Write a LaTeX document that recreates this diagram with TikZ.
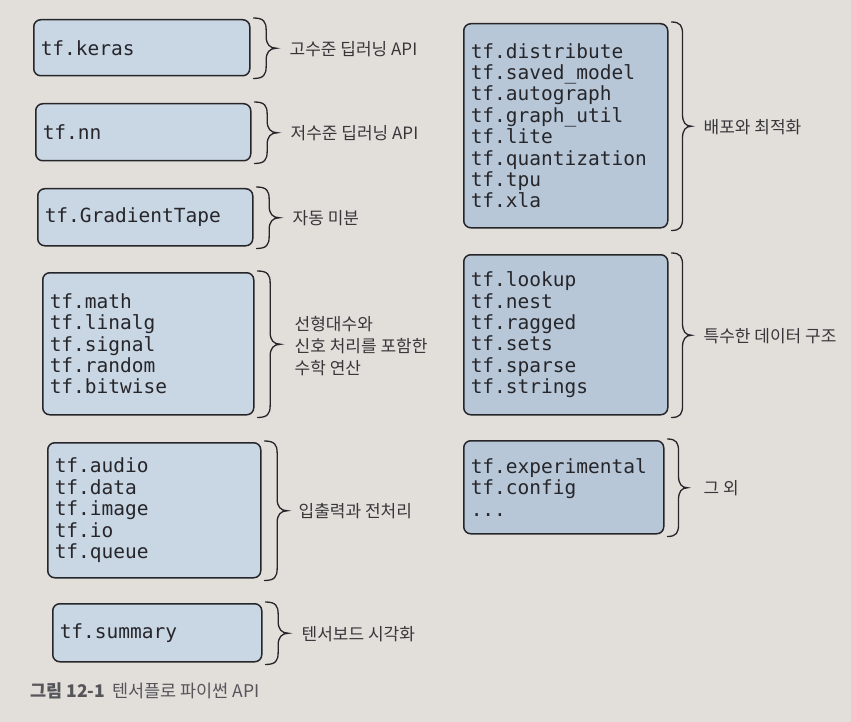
\documentclass[tikz,border=0pt]{standalone}
\usepackage{fontspec}
\newfontfamily\kr{Noto Sans CJK KR}
\newfontfamily\mono{DejaVu Sans Mono}
\usetikzlibrary{calc}
\definecolor{bg}{RGB}{226,223,219}
\definecolor{boxL}{RGB}{201,214,227}
\definecolor{boxR}{RGB}{183,199,216}
\definecolor{ink}{RGB}{38,38,42}
\definecolor{labink}{RGB}{55,55,58}
\definecolor{capink}{RGB}{85,85,90}
\tikzset{
  tfbox/.style={draw=ink, line width=1.5pt, rounded corners=7pt, align=left,
    inner xsep=7pt, inner ysep=0pt, anchor=north west, text=ink,
    font=\mono\fontsize{19.5}{21.4}\selectfont},
  bracestyle/.style={draw=ink, line width=1.3pt, line cap=round},
  lab/.style={font=\kr\fontsize{17}{22}\selectfont, text=labink, anchor=west, align=left, inner xsep=0pt}
}
% #1 node name, #2 amplitude
\newcommand\tfbrace[2]{%
  \draw[bracestyle] let \p1=($(#1.north east)+(3,-1)$), \p2=($(#1.south east)+(3,2)$),
    \p3=($(\p1)!0.5!(\p2)$) in
  (\x1,\y1) .. controls ({\x1+0.45*#2},\y1) and ({\x1+0.55*#2},{\y1-4pt}) .. ({\x1+0.55*#2},{\y1-12pt})
  -- ({\x1+0.55*#2},{\y3+12pt})
  .. controls ({\x1+0.55*#2},{\y3+4pt}) and ({\x1+0.7*#2},\y3) .. ({\x1+#2},\y3)
  .. controls ({\x1+0.7*#2},\y3) and ({\x1+0.55*#2},{\y3-4pt}) .. ({\x1+0.55*#2},{\y3-12pt})
  -- ({\x1+0.55*#2},{\y2+12pt})
  .. controls ({\x1+0.55*#2},{\y2+4pt}) and ({\x1+0.45*#2},\y2) .. (\x1,\y2);}
\begin{document}
\begin{tikzpicture}[x=1pt,y=-1pt]
\useasboundingbox (0,0) rectangle (851,722);
\fill[bg] (0,0) rectangle (851,722);

% left column
\node[tfbox, fill=boxL, text width=202pt, minimum height=56pt] (k) at (33,19) {tf.keras};
\node[tfbox, fill=boxL, text width=201pt, minimum height=57pt] (n) at (35,103) {tf.nn};
\node[tfbox, fill=boxL, text width=201pt, minimum height=57pt] (g) at (37,188) {tf.GradientTape};
\node[tfbox, fill=boxL, text width=197pt, minimum height=142pt] (m) at (42,272)
  {tf.math\\tf.linalg\\tf.signal\\tf.random\\tf.bitwise};
\node[tfbox, fill=boxL, text width=199pt, minimum height=135pt] (a) at (47,442)
  {tf.audio\\tf.data\\tf.image\\tf.io\\tf.queue};
\node[tfbox, fill=boxL, text width=195pt, minimum height=58pt] (s) at (52,603) {tf.summary};

% right column
\node[tfbox, fill=boxR, text width=190pt, minimum height=204pt] (d) at (463,23)
  {tf.distribute\\tf.saved\_model\\tf.autograph\\tf.graph\_util\\tf.lite\\tf.quantization\\tf.tpu\\tf.xla};
\node[tfbox, fill=boxR, text width=190pt, minimum height=160pt] (l) at (463,254)
  {tf.lookup\\tf.nest\\tf.ragged\\tf.sets\\tf.sparse\\tf.strings};
\node[tfbox, fill=boxR, text width=186pt, minimum height=93pt] (e) at (463,440)
  {tf.experimental\\tf.config\\...};

% braces
\foreach \b in {k,n,g,m,a,s} {\tfbrace{\b}{23pt}}
\foreach \b in {d,l,e} {\tfbrace{\b}{20pt}}

% labels
\node[lab] (kl) at ($(k.east)+(39,1)$) {고수준 딥러닝 API};
\node[lab] (nl) at ($(n.east)+(39,1)$) {저수준 딥러닝 API};
\node[lab] (gl) at ($(g.east)+(39,1)$) {자동 미분};
\node[lab] (ml) at ($(m.east)+(40,2)$) {선형대수와\\신호 처리를 포함한\\수학 연산};
\node[lab] (al) at ($(a.east)+(37,1)$) {입출력과 전처리};
\node[lab] (sl) at ($(s.east)+(39,1)$) {텐서보드 시각화};
\node[lab] (dl) at ($(d.east)+(35,1)$) {배포와 최적화};
\node[lab] (ll) at ($(l.east)+(35,1)$) {특수한 데이터 구조};
\node[lab] (el) at ($(e.east)+(39,1)$) {그 외};

% caption
\node[anchor=west, inner xsep=0pt, font=\kr\fontsize{17.5}{20}\selectfont, text=capink] (cap) at (30,691)
  {\textbf{그림 12-1}\hspace{7pt}텐서플로 파이썬 API};
\end{tikzpicture}
\end{document}
